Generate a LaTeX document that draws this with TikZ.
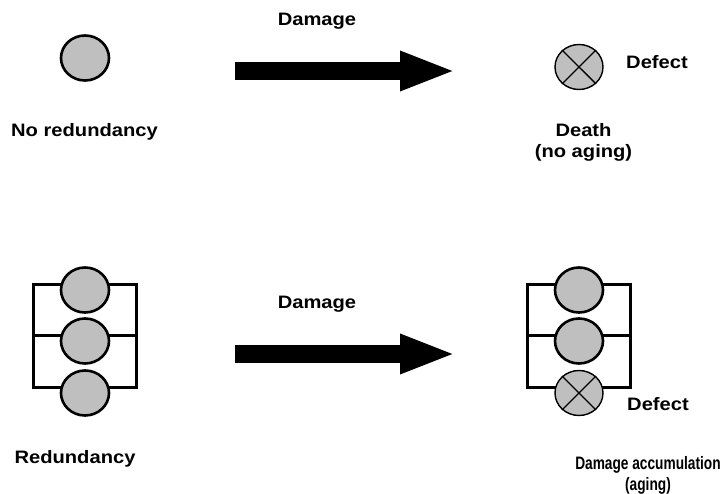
\documentclass[tikz,border=0pt]{standalone}
\usepackage{fontspec}
\usepackage{graphicx}
\setmainfont{Liberation Sans}[FakeStretch=1.12]
\usetikzlibrary{shapes.geometric, arrows.meta}

\tikzset{
 unit/.style={ellipse, draw, line width=2.6pt, fill=black!25, minimum width=48pt, minimum height=45pt, inner sep=0pt},
 defect/.style={ellipse, draw, line width=1.4pt, fill=black!25, minimum width=48pt, minimum height=45pt, inner sep=0pt},
 label/.style={font=\fontsize{18}{21}\selectfont\bfseries, align=center, inner sep=0pt, anchor=base},
 wire/.style={line width=2.6pt, line cap=rect},
 damage/.style={line width=18pt, -{Triangle[length=56pt, width=36pt]}}
}
\newcommand{\squeezed}[1]{\scalebox{0.68}[1]{#1}}

\begin{document}
\begin{tikzpicture}[x=1pt, y=-1pt]
 \useasboundingbox (0,0) rectangle (723,494);
%上段：冗長性なし
 \node[unit] (single) at (85,58) {};
 \node[label] (noredtext) at (84.5,137) {No redundancy};
 \coordinate (dam1start) at (235,71);
 \coordinate (dam1end) at (456,71);
 \draw[damage] (dam1start) -- (dam1end);
 \node[label] (dam1text) at (317,26) {Damage};
 \node[defect] (dead) at (579,67) {};
 \draw[line width=1.4pt] (dead.45) -- (dead.225) (dead.135) -- (dead.315);
 \node[label, anchor=base west] (defect1text) at (626,69) {Defect};
 \node[label] (deathtext) at (583.5,158) {Death\\(no aging)};
%下段：冗長性あり
 \node[unit] (lefta) at (85,290) {};
 \node[unit] (leftb) at (85,341) {};
 \node[unit] (leftc) at (85,393) {};
 \draw[wire] (lefta.167) -- ++(-27,0) |- (leftc.167);
 \draw[wire] (leftb.167) -- ++(-27,0);
 \draw[wire] (lefta.13) -- ++(27,0) |- (leftc.13);
 \draw[wire] (leftb.13) -- ++(27,0);
 \node[label] (redtext) at (75,463) {Redundancy};
 \coordinate (dam2start) at (235,354);
 \coordinate (dam2end) at (456,354);
 \draw[damage] (dam2start) -- (dam2end);
 \node[label] (dam2text) at (317,309) {Damage};
 \node[unit] (righta) at (579,290) {};
 \node[unit] (rightb) at (579,341) {};
 \node[defect] (rightc) at (579,393) {};
 \draw[line width=1.4pt] (rightc.45) -- (rightc.225) (rightc.135) -- (rightc.315);
 \draw[wire] (righta.167) -- ++(-27,0) |- (rightc.167);
 \draw[wire] (rightb.167) -- ++(-27,0);
 \draw[wire] (righta.13) -- ++(27,0) |- (rightc.13);
 \draw[wire] (rightb.13) -- ++(27,0);
 \node[label, anchor=base west] (defect2text) at (627,410) {Defect};
 \node[label] (accumtext) at (648,490) {\squeezed{Damage accumulation}\\\squeezed{(aging)}};
\end{tikzpicture}
\end{document}
